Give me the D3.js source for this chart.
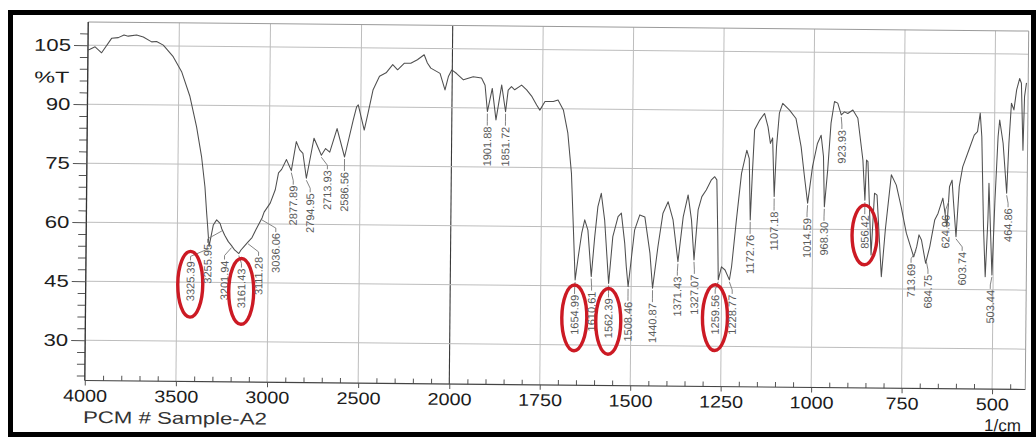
<!DOCTYPE html>
<html>
<head>
<meta charset="utf-8">
<script src="https://cdn.jsdelivr.net/npm/d3@7"></script>
<style>
  html, body { margin: 0; padding: 0; background: #fff; }
  svg { display: block; }
</style>
</head>
<body>
<svg id="chart" width="1036" height="439"></svg>
<script>
// FTIR transmittance spectrum of sample A2 (wavenumber in 1/cm, %T)
const wavenumbers = [
  4000, 3989, 3961, 3925, 3871, 3834, 3803, 3780, 3734, 3697, 3651, 3624, 3587, 3532, 3485, 3438,
  3400, 3371, 3351, 3340, 3334, 3325.39, 3303, 3285, 3266, 3255.95, 3240, 3220, 3201.94, 3185,
  3161.43, 3150, 3135, 3111.28, 3090, 3070, 3036.06, 3025, 2992, 2965, 2948, 2931, 2905, 2877.89,
  2852, 2833, 2815, 2794.95, 2755, 2730, 2713.93, 2691, 2668, 2629, 2586.56, 2541, 2523, 2514,
  2480, 2460, 2434, 2399, 2363, 2327, 2300, 2263, 2228, 2192, 2155, 2137, 2118, 2067, 2039, 2021,
  2003, 1988, 1969, 1942, 1919, 1909, 1901.88, 1889, 1878, 1863, 1851.72, 1845, 1836, 1827, 1808,
  1794, 1779, 1766, 1757, 1743, 1720, 1707, 1692, 1679, 1668, 1661, 1654.99, 1647, 1638, 1630,
  1621, 1610.61, 1602, 1594, 1585, 1575, 1562.39, 1552, 1538, 1529, 1519, 1514, 1508.46, 1492,
  1478, 1464, 1449, 1440.87, 1427, 1414, 1400, 1386, 1371.43, 1358, 1345, 1335, 1327.07, 1317,
  1307, 1295, 1281, 1272, 1266, 1262, 1259.56, 1251, 1241, 1228.77, 1223, 1211, 1198, 1184, 1177,
  1172.76, 1168, 1163, 1149, 1136, 1126, 1119, 1113, 1107.18, 1102, 1095, 1086, 1067, 1049, 1034,
  1024, 1014.59, 1002, 989, 979, 972, 968.30, 960, 952, 943, 934, 923.93, 915, 906, 892, 878, 863,
  856.42, 853, 849, 838, 830, 823, 809, 799, 784, 770, 756, 741, 720, 712, 706, 699, 687, 676, 663,
  654, 641, 636, 629, 623, 616, 612, 603.74, 596, 587, 569, 556, 547, 540, 535, 528, 522, 516, 514,
  509, 503.44, 497, 490, 486, 476, 464.86, 460, 454, 447, 440, 432, 427, 421, 418, 413
];
const transmittance = [
  103.8, 104.0, 104.6, 103.1, 106.8, 107.0, 107.7, 107.4, 107.7, 107.2, 106.0, 106.1, 105.2, 102.3, 98.5, 92.2,
  84.5, 76.9, 69.3, 62.5, 59.2, 54.1, 59.6, 60.9, 60.0, 58.6, 57.0, 55.4, 54.4, 53.3,
  52.4, 53.3, 54.1, 55.4, 56.5, 58.4, 61.5, 63.0, 65.3, 68.7, 73.0, 73.9, 76.4, 73.6,
  81.0, 78.9, 78.0, 71.7, 81.9, 79.3, 77.6, 79.3, 78.4, 84.4, 77.2, 86.6, 90.0, 90.5,
  84.1, 88.4, 94.3, 97.8, 98.7, 100.8, 99.5, 101.2, 101.2, 102.1, 103.4, 101.3, 100.0, 98.7, 94.5, 97.9,
  99.6, 98.7, 97.1, 97.9, 97.6, 95.8, 89.1, 95.0, 87.0, 95.9, 89.1, 94.6, 95.5, 94.7, 95.9,
  94.7, 93.0, 90.9, 89.6, 91.8, 91.8, 92.2, 89.7, 83.8, 73.6, 59.2, 46.5, 52.4, 58.4, 61.8,
  59.2, 47.4, 57.5, 65.2, 68.6, 61.8, 45.7, 57.6, 62.7, 63.6, 56.0, 50.0, 44.9, 59.3,
  63.2, 62.7, 53.5, 44.6, 55.2, 63.7, 66.6, 62.0, 51.4, 62.8, 68.4, 62.0, 51.9, 64.6,
  68.0, 69.7, 72.3, 73.1, 72.3, 58.0, 46.9, 50.2, 49.4, 46.9, 50.3, 62.1, 74.0, 79.9, 77.8,
  62.2, 74.1, 85.1, 87.6, 89.3, 85.9, 81.7, 83.1, 68.2, 80.9, 89.4, 91.9, 90.2, 88.1, 80.9,
  73.3, 66.6, 75.9, 81.8, 83.9, 78.5, 65.7, 75.1, 87.0, 92.5, 92.1, 89.1, 89.9, 89.5, 90.4, 88.3, 77.7,
  67.5, 77.7, 77.3, 53.6, 69.3, 68.8, 48.1, 60.2, 74.0, 71.4, 65.9, 59.2, 53.2, 55.8, 58.8, 57.5, 51.6, 55.8, 62.6,
  64.3, 68.2, 65.2, 60.9, 71.1, 72.8, 67.8, 58.4, 71.2, 76.2, 80.9, 84.3, 85.2, 89.9, 83.9, 61.0, 48.3, 62.8, 72.1,
  61.1, 48.8, 67.9, 84.0, 88.2, 82.3, 69.6, 82.3, 92.5, 90.8, 95.9, 98.8, 97.6, 80.6, 94.2, 97.7
];

// Peak positions printed by the peak picker
const peakLabels = [
  "3325.39", "3255.95", "3201.94", "3161.43", "3111.28", "3036.06", "2877.89", "2794.95",
  "2713.93", "2586.56", "1901.88", "1851.72", "1654.99", "1610.61", "1562.39", "1508.46",
  "1440.87", "1371.43", "1327.07", "1259.56", "1228.77", "1172.76", "1107.18", "1014.59",
  "968.30", "923.93", "856.42", "713.69", "684.75", "624.96", "603.74", "503.44", "464.86"
];
// Peaks marked by hand with a red ring
const circledPeaks = ["3325.39", "3161.43", "1654.99", "1562.39", "1259.56", "856.42"];

const yTicks = [105, 90, 75, 60, 45, 30];
const yTickLabels = ["105", "90", "75", "60", "45", "30"];
const xTicks = [4000, 3500, 3000, 2500, 2000, 1750, 1500, 1250, 1000, 750, 500];
const xTickLabels = ["4000", "3500", "3000", "2500", "2000", "1750", "1500", "1250", "1000", "750", "500"];

const svg = d3.select("#chart");

// Heavy outer border of the printout
svg.append("rect")
  .attr("x", 10.5).attr("y", 12.5).attr("width", 1023).attr("height", 422)
  .attr("fill", "none").attr("stroke", "#000").attr("stroke-width", 5);

// The sheet sits slightly skewed on the scanner bed
const g = svg.append("g").attr("transform", "rotate(0.55, 557, 205)");

// Split abscissa: 500 1/cm per division above 2000, 250 below
const x = d3.scaleLinear().domain([4000, 2000, 400]).range([86.5, 451, 1030]);
const y = d3.scaleLinear().domain([19.75, 110.9]).range([385, 26.5]);

const xL = x(4000), xR = 1027, yT = y(110.9), yB = y(19.75);
const font = "'Liberation Sans', Arial, sans-serif";

// Grid
g.append("g").selectAll("line").data(xTicks).join("line")
  .attr("x1", d => x(d)).attr("x2", d => x(d)).attr("y1", yT).attr("y2", yB)
  .attr("stroke", d => d === 2000 ? "#3a3a3a" : "#bdbdbd")
  .attr("stroke-width", d => d === 2000 ? 1.1 : 1);
g.append("g").selectAll("line").data(yTicks).join("line")
  .attr("x1", xL).attr("x2", xR).attr("y1", d => y(d)).attr("y2", d => y(d))
  .attr("stroke", "#bdbdbd").attr("stroke-width", 1);

// Frame
g.append("line").attr("x1", xL).attr("x2", xR).attr("y1", yT).attr("y2", yT)
  .attr("stroke", "#9a9a9a").attr("stroke-width", 1);
g.append("line").attr("x1", xR).attr("x2", xR).attr("y1", yT).attr("y2", yB)
  .attr("stroke", "#9a9a9a").attr("stroke-width", 1);

// Y axis: major ticks with labels, minor ticks every 3 %T
const yMinor = d3.range(21, 110, 3).filter(v => !yTicks.includes(v));
g.append("g").attr("transform", `translate(${xL},0)`)
  .call(d3.axisLeft(y).tickValues(yMinor).tickSize(8).tickFormat(""))
  .call(a => a.select(".domain").remove())
  .call(a => a.selectAll("line").attr("stroke", "#555"));
const yAxis = g.append("g").attr("transform", `translate(${xL},0)`)
  .call(d3.axisLeft(y).tickValues(yTicks).tickSize(14).tickPadding(3)
    .tickFormat((d, i) => yTickLabels[i]));
yAxis.select(".domain").attr("stroke", "#333").attr("stroke-width", 1.3)
  .attr("d", `M0,${yT}V${yB}`);
yAxis.selectAll("line").attr("stroke", "#555");
yAxis.selectAll("text")
  .attr("font-family", font).attr("font-size", 17).attr("fill", "#1c1c1c")
  .attr("textLength", d => yTickLabels[yTicks.indexOf(d)].length * 12.3)
  .attr("lengthAdjust", "spacingAndGlyphs");

// X axis: minor ticks (100 above 2000, 50 below), major ticks with labels
const xMinor = d3.range(3900, 2000, -100).concat(d3.range(1950, 400, -50))
  .filter(v => !xTicks.includes(v));
g.append("g").attr("transform", `translate(0,${yB})`)
  .call(d3.axisBottom(x).tickValues(xMinor).tickSize(-5).tickFormat(""))
  .call(a => a.select(".domain").remove())
  .call(a => a.selectAll("line").attr("stroke", "#555"));
const xAxis = g.append("g").attr("transform", `translate(0,${yB})`)
  .call(d3.axisBottom(x).tickValues(xTicks).tickSize(5).tickPadding(4)
    .tickFormat((d, i) => xTickLabels[i]));
xAxis.select(".domain").attr("stroke", "#444").attr("stroke-width", 1.2)
  .attr("d", `M${xL},0H${xR}`);
xAxis.selectAll("line").attr("stroke", "#555");
xAxis.selectAll("text")
  .attr("font-family", font).attr("font-size", 17).attr("fill", "#1c1c1c")
  .attr("textLength", d => xTickLabels[xTicks.indexOf(d)].length * 11)
  .attr("lengthAdjust", "spacingAndGlyphs");

// Axis captions
g.append("text").attr("x", 50.5).attr("y", 87.5).attr("text-anchor", "middle")
  .attr("font-family", font).attr("font-size", 16).attr("fill", "#1c1c1c")
  .attr("textLength", 35).attr("lengthAdjust", "spacingAndGlyphs").text("%T");
g.append("text").attr("x", 85).attr("y", 427.5).attr("font-family", font)
  .attr("font-size", 17).attr("fill", "#333")
  .attr("textLength", 184).attr("lengthAdjust", "spacingAndGlyphs").text("PCM # Sample-A2");
g.append("text").attr("x", 1023).attr("y", 427).attr("text-anchor", "end")
  .attr("font-family", font).attr("font-size", 17).attr("fill", "#1c1c1c").text("1/cm");

// Spectrum
const spectrum = wavenumbers.map((w, i) => ({ w, t: transmittance[i] }));
g.append("path").datum(spectrum)
  .attr("fill", "none").attr("stroke", "#4f4f4f").attr("stroke-width", 1.05)
  .attr("stroke-linejoin", "round")
  .attr("d", d3.line().x(d => x(d.w)).y(d => y(d.t)));

// %T of the trace at a given wavenumber
function tAt(w) {
  for (let i = 0; i < spectrum.length - 1; i++) {
    const a = spectrum[i], b = spectrum[i + 1];
    if (w <= a.w && w >= b.w) return a.t + (b.t - a.t) * (a.w - w) / (a.w - b.w);
  }
  return spectrum[spectrum.length - 1].t;
}

// Peak labels, pushed apart where they would collide
const GAP = 17;
const items = peakLabels.map(s => ({ text: s, w: +s, ax: x(+s), t: tAt(+s) }))
  .sort((a, b) => a.ax - b.ax);
const clusters = [];
items.forEach(it => {
  clusters.push({ items: [it], mean: it.ax });
  while (clusters.length > 1) {
    const c = clusters[clusters.length - 1], p = clusters[clusters.length - 2];
    const pEnd = p.mean + (p.items.length - 1) * GAP / 2;
    const cStart = c.mean - (c.items.length - 1) * GAP / 2;
    if (cStart - pEnd >= GAP) break;
    const merged = p.items.concat(c.items);
    clusters.splice(clusters.length - 2, 2, { items: merged, mean: d3.mean(merged, d => d.ax) });
  }
});
clusters.forEach(c => c.items.forEach((it, i) => {
  it.lx = c.mean - (c.items.length - 1) * GAP / 2 + i * GAP;
}));

const labelG = g.append("g");
items.forEach(it => {
  const yp = y(it.t);
  const top = yp + 15;
  labelG.append("path")
    .attr("d", `M${it.ax},${yp + 2}L${it.lx},${top - 5}L${it.lx},${top - 1}`)
    .attr("fill", "none").attr("stroke", "#777").attr("stroke-width", 0.9);
  const txt = labelG.append("text")
    .attr("transform", `translate(${it.lx},${top}) rotate(-90)`)
    .attr("text-anchor", "end").attr("dominant-baseline", "central")
    .attr("font-family", font).attr("font-size", 11).attr("fill", "#5a5a5a")
    .text(it.text);
  if (circledPeaks.includes(it.text)) {
    const len = txt.node().getComputedTextLength();
    labelG.append("ellipse")
      .attr("cx", it.lx).attr("cy", top + len / 2 + 3)
      .attr("rx", 12.5).attr("ry", len / 2 + 13)
      .attr("fill", "none").attr("stroke", "#cc1a24").attr("stroke-width", 3.4);
  }
});
</script>
</body>
</html>
